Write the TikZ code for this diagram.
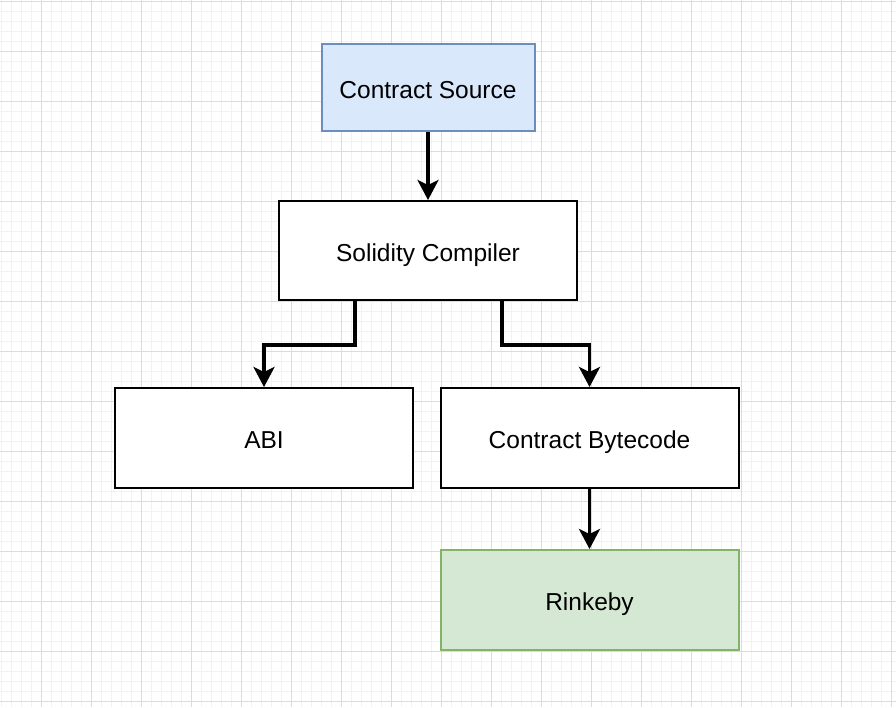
\documentclass[tikz,border=0pt]{standalone}
\usepackage{fontspec}
\setmainfont{Liberation Sans}
\usetikzlibrary{arrows.meta}
\definecolor{minorgrid}{HTML}{F2F2F2}
\definecolor{majorgrid}{HTML}{DCDCDC}
\definecolor{bluefill}{HTML}{DAE8FC}
\definecolor{bluedraw}{HTML}{6C8EBF}
\definecolor{greenfill}{HTML}{D5E8D4}
\definecolor{greendraw}{HTML}{82B366}
\tikzset{
  box/.style={draw=black, line width=2pt, fill=white, inner sep=0pt,
    text height=21pt, text depth=0pt,
    font=\fontsize{24.5}{28}\selectfont},
  flow/.style={line width=3.3pt, -{Stealth[length=20pt,width=21pt,inset=5pt]}},
}
\begin{document}
\begin{tikzpicture}[x=1pt,y=-1pt]
\useasboundingbox (0,0) rectangle (896,707);
\fill[white] (0,0) rectangle (896,707);
\foreach \i in {0,...,89} {
  \draw[minorgrid, line width=1pt] ({1.5+10*\i},0) -- ({1.5+10*\i},707);
}
\foreach \i in {0,...,70} {
  \draw[minorgrid, line width=1pt] (0,{1.5+10*\i}) -- (896,{1.5+10*\i});
}
\foreach \i in {0,...,17} {
  \draw[majorgrid, line width=1pt] ({41.5+50*\i},0) -- ({41.5+50*\i},707);
}
\foreach \i in {0,...,14} {
  \draw[majorgrid, line width=1pt] (0,{1.5+50*\i}) -- (896,{1.5+50*\i});
}
\node[box, fill=bluefill, draw=bluedraw, minimum width=213pt, minimum height=87pt] (src) at (428,87.5) {Contract Source};
\node[box, minimum width=298pt, minimum height=99pt] (comp) at (428,250.5) {Solidity Compiler};
\node[box, minimum width=298pt, minimum height=100pt] (abi) at (264,438) {ABI};
\node[box, minimum width=298pt, minimum height=100pt] (byte) at (589.5,438) {Contract Bytecode};
\node[box, fill=greenfill, draw=greendraw, minimum width=298pt, minimum height=100pt] (rink) at (589.5,600) {Rinkeby};
\draw[flow] (src.south) -- (comp.north);
\draw[flow] (comp.south -| 355,0) |- (264,345) -- (abi.north);
\draw[flow] (comp.south -| 502,0) |- (589.5,345) -- (byte.north);
\draw[flow] (byte.south) -- (rink.north);
\end{tikzpicture}
\end{document}
